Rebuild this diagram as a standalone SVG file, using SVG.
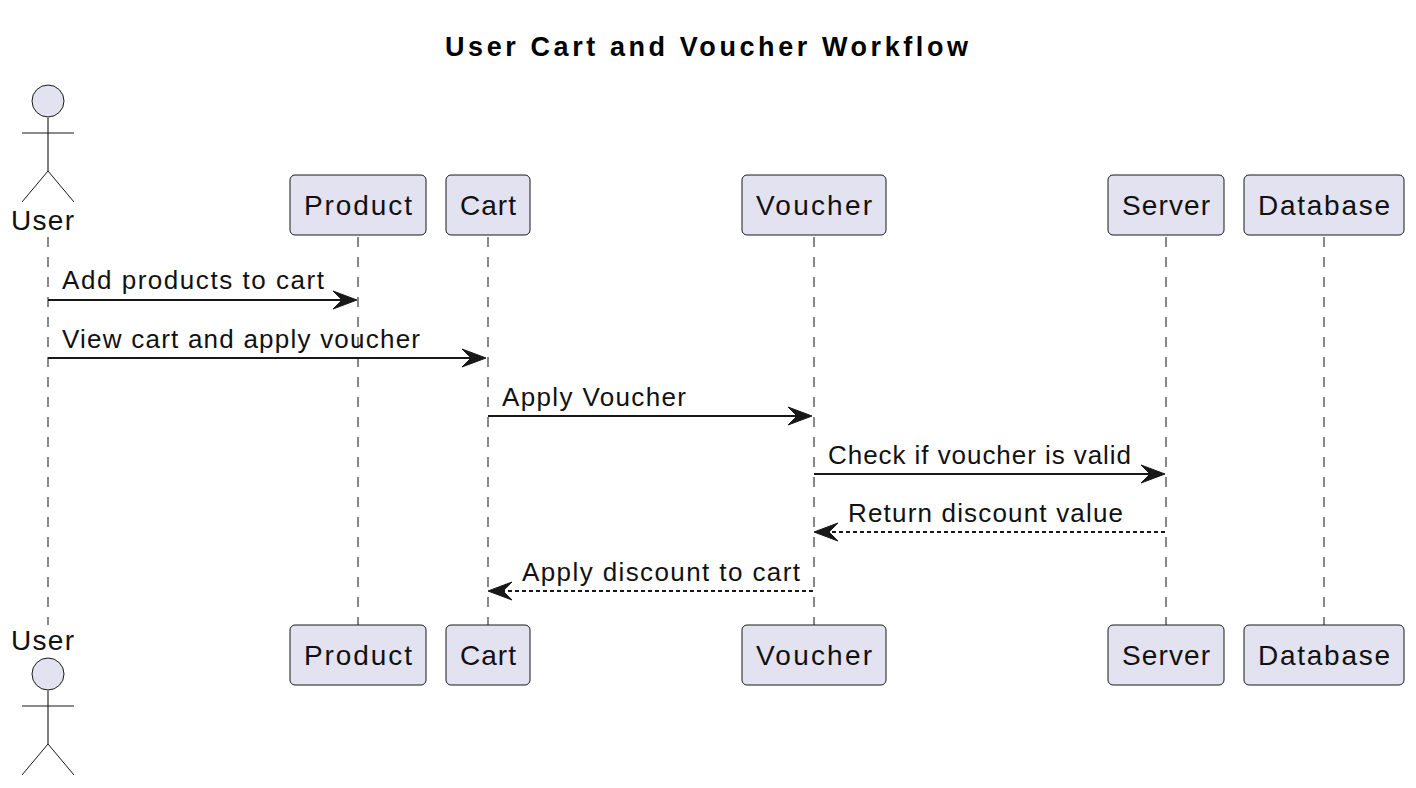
<svg xmlns="http://www.w3.org/2000/svg" width="1416" height="788" viewBox="0 0 1416 788">
<defs>
<path id="ah" d="M0 0L-24 -9L-15 0L-24 9Z" fill="#181818" stroke="#181818"/>
</defs>
<style>
text{font-family:"Liberation Sans",Arial,sans-serif;fill:#111}
.t{font-size:27px;font-weight:700;fill:#000}
.n{font-size:28px}
.m{font-size:26px}
.b{fill:#E2E2F0;stroke:#181818;stroke-width:1}
.l{stroke:#888;stroke-width:2;stroke-dasharray:10 10;fill:none}
.a{stroke:#181818;stroke-width:2;fill:none}
.d{stroke-dasharray:4 3}
.s{stroke:#181818;stroke-width:1;fill:none}
.sp{stroke:#808080;stroke-width:2;fill:none}
</style>
<rect width="1416" height="788" fill="#fff"/>
<text class="t" x="445" y="56" textLength="523">User Cart and Voucher Workflow</text>
<g id="lifelines">
<path class="l" d="M48 237V625M358 237V625M488 237V625M814 237V625M1166 237V625M1324 237V625"/>
</g>
<g id="user-top"><circle class="b" cx="48" cy="101" r="16"/><path class="sp" d="M48 117V171"/><path class="s" d="M22 133H74M48 171L22 202M48 171L74 202"/><text class="n" x="11" y="230" textLength="63">User</text></g>
<g id="product-top"><rect class="b" x="290" y="175" width="136" height="60" rx="5"/><text class="n" x="304" y="215" textLength="108">Product</text></g>
<g id="cart-top"><rect class="b" x="446" y="175" width="84" height="60" rx="5"/><text class="n" x="460" y="215" textLength="56">Cart</text></g>
<g id="voucher-top"><rect class="b" x="742" y="175" width="144" height="60" rx="5"/><text class="n" x="756" y="215" textLength="116">Voucher</text></g>
<g id="server-top"><rect class="b" x="1108" y="175" width="116" height="60" rx="5"/><text class="n" x="1122" y="215" textLength="88">Server</text></g>
<g id="database-top"><rect class="b" x="1244" y="175" width="160" height="60" rx="5"/><text class="n" x="1258" y="215" textLength="132">Database</text></g>
<g id="user-bottom"><text class="n" x="11" y="650" textLength="63">User</text><circle class="b" cx="48" cy="674" r="16"/><path class="sp" d="M48 690V744"/><path class="s" d="M22 706H74M48 744L22 775M48 744L74 775"/></g>
<g id="product-bottom"><rect class="b" x="290" y="625" width="136" height="60" rx="5"/><text class="n" x="304" y="665" textLength="108">Product</text></g>
<g id="cart-bottom"><rect class="b" x="446" y="625" width="84" height="60" rx="5"/><text class="n" x="460" y="665" textLength="56">Cart</text></g>
<g id="voucher-bottom"><rect class="b" x="742" y="625" width="144" height="60" rx="5"/><text class="n" x="756" y="665" textLength="116">Voucher</text></g>
<g id="server-bottom"><rect class="b" x="1108" y="625" width="116" height="60" rx="5"/><text class="n" x="1122" y="665" textLength="88">Server</text></g>
<g id="database-bottom"><rect class="b" x="1244" y="625" width="160" height="60" rx="5"/><text class="n" x="1258" y="665" textLength="132">Database</text></g>
<g id="connectors">
<path class="a" d="M48 300H345"/><use href="#ah" transform="translate(357 300)"/><text class="m" x="62" y="289" textLength="262">Add products to cart</text>
<path class="a" d="M48 358H475"/><use href="#ah" transform="translate(486 358)"/><text class="m" x="62" y="348" textLength="358">View cart and apply voucher</text>
<path class="a" d="M488 416H800"/><use href="#ah" transform="translate(812 416)"/><text class="m" x="502" y="406" textLength="184">Apply Voucher</text>
<path class="a" d="M814 474H1153"/><use href="#ah" transform="translate(1165 474)"/><text class="m" x="828" y="464" textLength="303">Check if voucher is valid</text>
<path class="a d" d="M1165 532H826"/><use href="#ah" transform="translate(814 532) rotate(180)"/><text class="m" x="848" y="522" textLength="275">Return discount value</text>
<path class="a d" d="M813 591H500"/><use href="#ah" transform="translate(488 591) rotate(180)"/><text class="m" x="522" y="581" textLength="278">Apply discount to cart</text>
</g>
</svg>
